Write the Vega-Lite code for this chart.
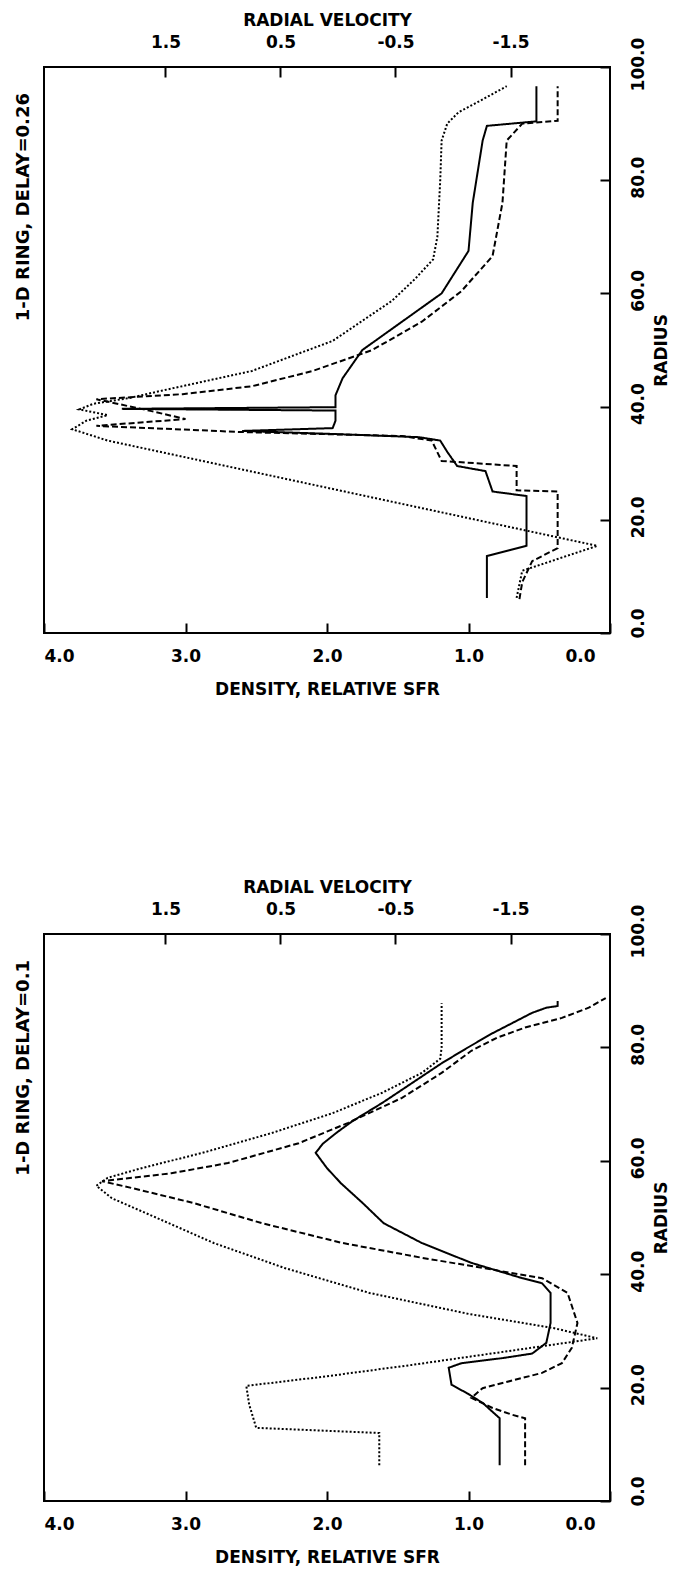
{
  "$schema": "https://vega.github.io/schema/vega-lite/v6.json",
  "padding": {"left": 13, "top": 10, "right": 2, "bottom": 2},
  "background": "white",
  "config": {
    "font": "DejaVu Sans",
    "view": {"stroke": "black", "strokeWidth": 2},
    "axis": {"labelFont": "DejaVu Sans", "titleFont": "DejaVu Sans", "labelFontWeight": "bold", "titleFontWeight": "bold", "labelFontSize": 17, "titleFontSize": 17, "labelColor": "black", "titleColor": "black", "domain": false, "ticks": true, "tickColor": "black", "tickWidth": 2, "tickSize": 10, "tickOpacity": 1, "offset": -10, "grid": false, "zindex": 1},
    "title": {"font": "DejaVu Sans", "fontSize": 18, "fontWeight": "bold", "color": "black"}
  },
  "spacing": 179,
  "datasets": {
    "lines": [
      {"panel": "a", "series": "density", "r": 6.2, "v": 0.87},
      {"panel": "a", "series": "density", "r": 13.6, "v": 0.87},
      {"panel": "a", "series": "density", "r": 15.4, "v": 0.59},
      {"panel": "a", "series": "density", "r": 24.2, "v": 0.59},
      {"panel": "a", "series": "density", "r": 25, "v": 0.83},
      {"panel": "a", "series": "density", "r": 28.6, "v": 0.88},
      {"panel": "a", "series": "density", "r": 29.5, "v": 1.08},
      {"panel": "a", "series": "density", "r": 32, "v": 1.15},
      {"panel": "a", "series": "density", "r": 34, "v": 1.2},
      {"panel": "a", "series": "density", "r": 34.6, "v": 1.35},
      {"panel": "a", "series": "density", "r": 35.2, "v": 2.0},
      {"panel": "a", "series": "density", "r": 35.7, "v": 2.6},
      {"panel": "a", "series": "density", "r": 36.2, "v": 1.96},
      {"panel": "a", "series": "density", "r": 37.5, "v": 1.94},
      {"panel": "a", "series": "density", "r": 39.3, "v": 1.94},
      {"panel": "a", "series": "density", "r": 39.6, "v": 3.45},
      {"panel": "a", "series": "density", "r": 39.9, "v": 1.94},
      {"panel": "a", "series": "density", "r": 42, "v": 1.94},
      {"panel": "a", "series": "density", "r": 45, "v": 1.89},
      {"panel": "a", "series": "density", "r": 50, "v": 1.75},
      {"panel": "a", "series": "density", "r": 55, "v": 1.47},
      {"panel": "a", "series": "density", "r": 60, "v": 1.19},
      {"panel": "a", "series": "density", "r": 67.5, "v": 1.0},
      {"panel": "a", "series": "density", "r": 76, "v": 0.97},
      {"panel": "a", "series": "density", "r": 87, "v": 0.9},
      {"panel": "a", "series": "density", "r": 89.6, "v": 0.87},
      {"panel": "a", "series": "density", "r": 90.4, "v": 0.52},
      {"panel": "a", "series": "density", "r": 96.6, "v": 0.52},

      {"panel": "a", "series": "sfr", "r": 6, "v": 0.64},
      {"panel": "a", "series": "sfr", "r": 9, "v": 0.62},
      {"panel": "a", "series": "sfr", "r": 12.7, "v": 0.55},
      {"panel": "a", "series": "sfr", "r": 15, "v": 0.37},
      {"panel": "a", "series": "sfr", "r": 25, "v": 0.37},
      {"panel": "a", "series": "sfr", "r": 25.2, "v": 0.66},
      {"panel": "a", "series": "sfr", "r": 29.5, "v": 0.66},
      {"panel": "a", "series": "sfr", "r": 30.4, "v": 1.19},
      {"panel": "a", "series": "sfr", "r": 34, "v": 1.26},
      {"panel": "a", "series": "sfr", "r": 34.8, "v": 1.47},
      {"panel": "a", "series": "sfr", "r": 35.5, "v": 2.6},
      {"panel": "a", "series": "sfr", "r": 36.6, "v": 3.63},
      {"panel": "a", "series": "sfr", "r": 37.8, "v": 3.0},
      {"panel": "a", "series": "sfr", "r": 39.2, "v": 3.24},
      {"panel": "a", "series": "sfr", "r": 41.3, "v": 3.63},
      {"panel": "a", "series": "sfr", "r": 42.2, "v": 3.02},
      {"panel": "a", "series": "sfr", "r": 43.6, "v": 2.53},
      {"panel": "a", "series": "sfr", "r": 46.3, "v": 2.1},
      {"panel": "a", "series": "sfr", "r": 50, "v": 1.68},
      {"panel": "a", "series": "sfr", "r": 55, "v": 1.33},
      {"panel": "a", "series": "sfr", "r": 60.4, "v": 1.05},
      {"panel": "a", "series": "sfr", "r": 66.6, "v": 0.83},
      {"panel": "a", "series": "sfr", "r": 76, "v": 0.76},
      {"panel": "a", "series": "sfr", "r": 87, "v": 0.73},
      {"panel": "a", "series": "sfr", "r": 90, "v": 0.62},
      {"panel": "a", "series": "sfr", "r": 90.5, "v": 0.37},
      {"panel": "a", "series": "sfr", "r": 96.6, "v": 0.37},

      {"panel": "b", "series": "density", "r": 6.3, "v": 0.78},
      {"panel": "b", "series": "density", "r": 14.6, "v": 0.78},
      {"panel": "b", "series": "density", "r": 17.3, "v": 0.9},
      {"panel": "b", "series": "density", "r": 19, "v": 1.01},
      {"panel": "b", "series": "density", "r": 20.5, "v": 1.12},
      {"panel": "b", "series": "density", "r": 23.5, "v": 1.14},
      {"panel": "b", "series": "density", "r": 24.3, "v": 1.05},
      {"panel": "b", "series": "density", "r": 25.2, "v": 0.76},
      {"panel": "b", "series": "density", "r": 26, "v": 0.55},
      {"panel": "b", "series": "density", "r": 27.9, "v": 0.45},
      {"panel": "b", "series": "density", "r": 31.4, "v": 0.42},
      {"panel": "b", "series": "density", "r": 36.7, "v": 0.42},
      {"panel": "b", "series": "density", "r": 38.4, "v": 0.48},
      {"panel": "b", "series": "density", "r": 39.3, "v": 0.62},
      {"panel": "b", "series": "density", "r": 42, "v": 0.98},
      {"panel": "b", "series": "density", "r": 45.5, "v": 1.33},
      {"panel": "b", "series": "density", "r": 49, "v": 1.6},
      {"panel": "b", "series": "density", "r": 52.6, "v": 1.75},
      {"panel": "b", "series": "density", "r": 56, "v": 1.9},
      {"panel": "b", "series": "density", "r": 58.7, "v": 2.0},
      {"panel": "b", "series": "density", "r": 61.4, "v": 2.08},
      {"panel": "b", "series": "density", "r": 63, "v": 2.03},
      {"panel": "b", "series": "density", "r": 65, "v": 1.93},
      {"panel": "b", "series": "density", "r": 67, "v": 1.82},
      {"panel": "b", "series": "density", "r": 70.2, "v": 1.61},
      {"panel": "b", "series": "density", "r": 73.7, "v": 1.4},
      {"panel": "b", "series": "density", "r": 77.2, "v": 1.19},
      {"panel": "b", "series": "density", "r": 79.9, "v": 1.01},
      {"panel": "b", "series": "density", "r": 82.5, "v": 0.83},
      {"panel": "b", "series": "density", "r": 84.3, "v": 0.69},
      {"panel": "b", "series": "density", "r": 86.1, "v": 0.55},
      {"panel": "b", "series": "density", "r": 87, "v": 0.45},
      {"panel": "b", "series": "density", "r": 87.3, "v": 0.37},
      {"panel": "b", "series": "density", "r": 88.2, "v": 0.37},

      {"panel": "b", "series": "sfr", "r": 6.3, "v": 0.6},
      {"panel": "b", "series": "sfr", "r": 14.6, "v": 0.6},
      {"panel": "b", "series": "sfr", "r": 15.2, "v": 0.69},
      {"panel": "b", "series": "sfr", "r": 16.4, "v": 0.83},
      {"panel": "b", "series": "sfr", "r": 18.2, "v": 0.98},
      {"panel": "b", "series": "sfr", "r": 19.9, "v": 0.9},
      {"panel": "b", "series": "sfr", "r": 20.8, "v": 0.76},
      {"panel": "b", "series": "sfr", "r": 22.6, "v": 0.48},
      {"panel": "b", "series": "sfr", "r": 24.3, "v": 0.34},
      {"panel": "b", "series": "sfr", "r": 27, "v": 0.27},
      {"panel": "b", "series": "sfr", "r": 31.4, "v": 0.23},
      {"panel": "b", "series": "sfr", "r": 36.7, "v": 0.3},
      {"panel": "b", "series": "sfr", "r": 39.3, "v": 0.48},
      {"panel": "b", "series": "sfr", "r": 41.1, "v": 0.9},
      {"panel": "b", "series": "sfr", "r": 42.9, "v": 1.33},
      {"panel": "b", "series": "sfr", "r": 45.5, "v": 1.89},
      {"panel": "b", "series": "sfr", "r": 49, "v": 2.46},
      {"panel": "b", "series": "sfr", "r": 52.6, "v": 2.95},
      {"panel": "b", "series": "sfr", "r": 55.2, "v": 3.38},
      {"panel": "b", "series": "sfr", "r": 56.4, "v": 3.59},
      {"panel": "b", "series": "sfr", "r": 57.8, "v": 3.1},
      {"panel": "b", "series": "sfr", "r": 59.6, "v": 2.7},
      {"panel": "b", "series": "sfr", "r": 63.1, "v": 2.2},
      {"panel": "b", "series": "sfr", "r": 66.7, "v": 1.85},
      {"panel": "b", "series": "sfr", "r": 71.1, "v": 1.47},
      {"panel": "b", "series": "sfr", "r": 75.5, "v": 1.19},
      {"panel": "b", "series": "sfr", "r": 79.4, "v": 0.98},
      {"panel": "b", "series": "sfr", "r": 81.7, "v": 0.8},
      {"panel": "b", "series": "sfr", "r": 83.5, "v": 0.6},
      {"panel": "b", "series": "sfr", "r": 85.2, "v": 0.34},
      {"panel": "b", "series": "sfr", "r": 87, "v": 0.15},
      {"panel": "b", "series": "sfr", "r": 88.7, "v": 0.03}
    ],
    "velocity": [
      {"panel": "a", "r": 6.2, "rv": -1.553},
      {"panel": "a", "r": 11, "rv": -1.602},
      {"panel": "a", "r": 15.4, "rv": -2.254},
      {"panel": "a", "r": 34, "rv": 2.003},
      {"panel": "a", "r": 36, "rv": 2.311},
      {"panel": "a", "r": 37.5, "rv": 2.188},
      {"panel": "a", "r": 38.5, "rv": 2.003},
      {"panel": "a", "r": 39.5, "rv": 2.249},
      {"panel": "a", "r": 40.5, "rv": 2.126},
      {"panel": "a", "r": 41.5, "rv": 1.818},
      {"panel": "a", "r": 42.8, "rv": 1.535},
      {"panel": "a", "r": 46.3, "rv": 0.748},
      {"panel": "a", "r": 51.6, "rv": 0.047},
      {"panel": "a", "r": 58.7, "rv": -0.47},
      {"panel": "a", "r": 62.5, "rv": -0.667},
      {"panel": "a", "r": 66, "rv": -0.827},
      {"panel": "a", "r": 70, "rv": -0.864},
      {"panel": "a", "r": 80, "rv": -0.889},
      {"panel": "a", "r": 87, "rv": -0.901},
      {"panel": "a", "r": 90, "rv": -0.95},
      {"panel": "a", "r": 92, "rv": -1.048},
      {"panel": "a", "r": 94, "rv": -1.233},
      {"panel": "a", "r": 96.6, "rv": -1.467},

      {"panel": "b", "r": 6.3, "rv": -0.359},
      {"panel": "b", "r": 12, "rv": -0.359},
      {"panel": "b", "r": 12.9, "rv": 0.711},
      {"panel": "b", "r": 17, "rv": 0.772},
      {"panel": "b", "r": 20.3, "rv": 0.797},
      {"panel": "b", "r": 22, "rv": 0.096},
      {"panel": "b", "r": 24, "rv": -0.642},
      {"panel": "b", "r": 26.5, "rv": -1.504},
      {"panel": "b", "r": 28.7, "rv": -2.254},
      {"panel": "b", "r": 30.5, "rv": -1.873},
      {"panel": "b", "r": 33, "rv": -1.135},
      {"panel": "b", "r": 36.7, "rv": -0.273},
      {"panel": "b", "r": 41.1, "rv": 0.465},
      {"panel": "b", "r": 45.5, "rv": 1.08},
      {"panel": "b", "r": 49.9, "rv": 1.572},
      {"panel": "b", "r": 53.4, "rv": 1.966},
      {"panel": "b", "r": 55.6, "rv": 2.101},
      {"panel": "b", "r": 57, "rv": 2.003},
      {"panel": "b", "r": 58.7, "rv": 1.708},
      {"panel": "b", "r": 61.4, "rv": 1.179},
      {"panel": "b", "r": 64.9, "rv": 0.576},
      {"panel": "b", "r": 68.4, "rv": 0.047},
      {"panel": "b", "r": 72, "rv": -0.384},
      {"panel": "b", "r": 75.5, "rv": -0.729},
      {"panel": "b", "r": 78, "rv": -0.889},
      {"panel": "b", "r": 80, "rv": -0.901},
      {"panel": "b", "r": 87.8, "rv": -0.901}
    ]
  },
  "vconcat": [
    {
      "width": 566, "height": 566,
      "title": {"text": "1-D RING, DELAY=0.26", "orient": "left", "anchor": "end", "frame": "group", "dx": -26, "offset": 10},
      "layer": [
        {
          "data": {"name": "lines"},
          "transform": [{"filter": "datum.panel === 'a'"}],
          "mark": {"type": "line", "color": "black", "strokeWidth": 2},
          "encoding": {
            "x": {"field": "v", "type": "quantitative", "scale": {"domain": [0, 4], "reverse": true, "nice": false}, "axis": {"orient": "bottom", "values": [0, 1, 2, 3, 4], "format": ".1f", "title": "DENSITY, RELATIVE SFR", "ticks": true, "tickSize": 10, "labelPadding": 15, "titlePadding": 17, "labelOffset": {"condition": {"test": "datum.value === 0", "value": -15}, "value": 0}}},
            "y": {"field": "r", "type": "quantitative", "scale": {"domain": [0, 100], "nice": false}, "axis": {"orient": "right", "values": [0, 20, 40, 60, 80, 100], "format": ".1f", "title": "RADIUS", "ticks": true, "tickSize": 10, "labelAngle": -90, "labelAlign": "center", "labelBaseline": "middle", "labelPadding": 28, "labelOffset": {"condition": {"test": "datum.value === 0", "value": -10}, "value": -3}, "titleAngle": -90, "titleBaseline": "top", "titlePadding": 7}},
            "order": {"field": "r", "type": "quantitative"},
            "strokeDash": {"field": "series", "type": "nominal", "scale": {"domain": ["density", "sfr"], "range": [[1, 0], [6, 3]]}, "legend": null}
          }
        },
        {
          "data": {"name": "velocity"},
          "transform": [{"filter": "datum.panel === 'a'"}],
          "mark": {"type": "line", "color": "black", "strokeWidth": 2, "strokeDash": [2, 2]},
          "encoding": {
            "x": {"field": "rv", "type": "quantitative", "scale": {"domain": [-2.365, 2.556], "reverse": true, "nice": false}, "axis": {"orient": "top", "values": [-1.5, -0.5, 0.5, 1.5], "labelExpr": "datum.value < 0 ? '-' + format(-datum.value, '.1f') : format(datum.value, '.1f')", "title": "RADIAL VELOCITY", "ticks": true, "tickSize": 10, "labelPadding": 16, "titlePadding": 4}},
            "y": {"field": "r", "type": "quantitative"},
            "order": {"field": "r", "type": "quantitative"}
          }
        }
      ],
      "resolve": {"scale": {"x": "independent"}, "axis": {"x": "independent"}}
    },
    {
      "width": 566, "height": 567,
      "title": {"text": "1-D RING, DELAY=0.1", "orient": "left", "anchor": "end", "frame": "group", "dx": -26, "offset": 10},
      "layer": [
        {
          "data": {"name": "lines"},
          "transform": [{"filter": "datum.panel === 'b'"}],
          "mark": {"type": "line", "color": "black", "strokeWidth": 2},
          "encoding": {
            "x": {"field": "v", "type": "quantitative", "scale": {"domain": [0, 4], "reverse": true, "nice": false}, "axis": {"orient": "bottom", "values": [0, 1, 2, 3, 4], "format": ".1f", "title": "DENSITY, RELATIVE SFR", "ticks": true, "tickSize": 10, "labelPadding": 15, "titlePadding": 17, "labelOffset": {"condition": {"test": "datum.value === 0", "value": -15}, "value": 0}}},
            "y": {"field": "r", "type": "quantitative", "scale": {"domain": [0, 100], "nice": false}, "axis": {"orient": "right", "values": [0, 20, 40, 60, 80, 100], "format": ".1f", "title": "RADIUS", "ticks": true, "tickSize": 10, "labelAngle": -90, "labelAlign": "center", "labelBaseline": "middle", "labelPadding": 28, "labelOffset": {"condition": {"test": "datum.value === 0", "value": -10}, "value": -3}, "titleAngle": -90, "titleBaseline": "top", "titlePadding": 7}},
            "order": {"field": "r", "type": "quantitative"},
            "strokeDash": {"field": "series", "type": "nominal", "scale": {"domain": ["density", "sfr"], "range": [[1, 0], [6, 3]]}, "legend": null}
          }
        },
        {
          "data": {"name": "velocity"},
          "transform": [{"filter": "datum.panel === 'b'"}],
          "mark": {"type": "line", "color": "black", "strokeWidth": 2, "strokeDash": [2, 2]},
          "encoding": {
            "x": {"field": "rv", "type": "quantitative", "scale": {"domain": [-2.365, 2.556], "reverse": true, "nice": false}, "axis": {"orient": "top", "values": [-1.5, -0.5, 0.5, 1.5], "labelExpr": "datum.value < 0 ? '-' + format(-datum.value, '.1f') : format(datum.value, '.1f')", "title": "RADIAL VELOCITY", "ticks": true, "tickSize": 10, "labelPadding": 16, "titlePadding": 4}},
            "y": {"field": "r", "type": "quantitative"},
            "order": {"field": "r", "type": "quantitative"}
          }
        }
      ],
      "resolve": {"scale": {"x": "independent"}, "axis": {"x": "independent"}}
    }
  ]
}
